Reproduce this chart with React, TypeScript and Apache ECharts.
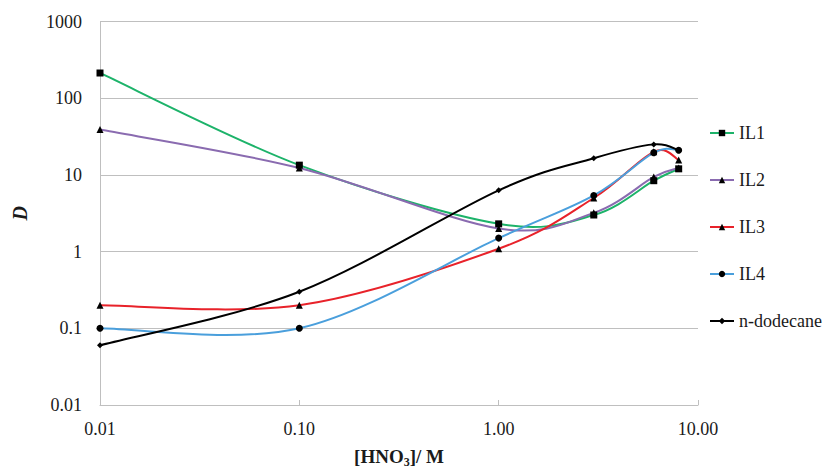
import React, { useEffect, useRef } from "react";
import * as echarts from "echarts";

const hno3 = [0.01, 0.1, 1, 3, 6, 8];
const seriesNames = ["IL1", "IL2", "IL3", "IL4", "n-dodecane"];
const il1 = [213, 13.4, 2.3, 3.0, 8.4, 12];
const il2 = [39, 12.3, 2.0, 3.2, 9.4, 12.3];
const il3 = [0.2, 0.2, 1.09, 5.0, 20, 15.6];
const il4 = [0.1, 0.1, 1.5, 5.4, 19.5, 21];
const dodecane = [0.06, 0.3, 6.3, 16.5, 25, 21];

const xTickLabels = ["0.01", "0.10", "1.00", "10.00"];

const lineColors = ["#1db36a", "#8a6bb0", "#e8222a", "#4a9fdc", "#000000"];
const symbols = ["rect", "triangle", "triangle", "circle", "diamond"];
const symbolSizes = [7, 7, 7, 7, 6];

const FONT = "Liberation Serif";

function smoothPath(pts: number[][]): string {
  // Catmull-Rom style cubic Bezier through the projected points
  const n = pts.length;
  let d = `M${pts[0][0]},${pts[0][1]}`;
  for (let i = 0; i < n - 1; i++) {
    const p0 = pts[i - 1] || pts[i];
    const p1 = pts[i];
    const p2 = pts[i + 1];
    const p3 = pts[i + 2] || pts[i + 1];
    const c1x = p1[0] + (p2[0] - p0[0]) / 6;
    const c1y = p1[1] + (p2[1] - p0[1]) / 6;
    const c2x = p2[0] - (p3[0] - p1[0]) / 6;
    const c2y = p2[1] - (p3[1] - p1[1]) / 6;
    d += ` C${c1x},${c1y} ${c2x},${c2y} ${p2[0]},${p2[1]}`;
  }
  return d;
}

export default function App() {
  const ref = useRef<HTMLDivElement>(null);
  useEffect(() => {
    if (!ref.current) return;
    const chart = echarts.init(ref.current, undefined, { renderer: "svg" });
    const values = [il1, il2, il3, il4, dodecane];

    const curveSeries = values.map((vals, i) => ({
      name: seriesNames[i] + "-curve",
      type: "custom",
      silent: true,
      clip: true,
      z: 2,
      data: [[hno3[0], vals[0]]],
      renderItem: (_params: any, api: any) => {
        const pts = vals.map((v, j) => api.coord([hno3[j], v]));
        return {
          type: "path",
          shape: { pathData: smoothPath(pts) },
          style: { stroke: lineColors[i], fill: "none", lineWidth: 2 },
        };
      },
    }));

    const markerSeries = values.map((vals, i) => ({
      name: seriesNames[i],
      type: "line",
      smooth: false,
      z: 3,
      data: vals.map((v, j) => [hno3[j], v]),
      symbol: symbols[i],
      symbolSize: symbolSizes[i],
      showAllSymbol: true,
      lineStyle: { color: lineColors[i], width: 2, opacity: 0 },
      itemStyle: { color: "#000000" },
    }));

    chart.setOption({
      animation: false,
      backgroundColor: "#ffffff",
      textStyle: { fontFamily: FONT },
      grid: { left: 100, right: 127, top: 21.5, bottom: 66, containLabel: false },
      legend: {
        orient: "vertical",
        left: 704,
        top: 119,
        itemGap: 29,
        itemWidth: 24,
        itemHeight: 8,
        data: seriesNames.map((n, i) => ({
          name: n,
          lineStyle: { color: lineColors[i], width: 2, opacity: 1 },
          itemStyle: { color: "#000000" },
          textStyle: { fontFamily: FONT, fontSize: 18, color: "#1a1a1a" },
        })),
        textStyle: { fontFamily: FONT, fontSize: 18, color: "#1a1a1a", lineHeight: 18 },
      },
      xAxis: {
        type: "log",
        logBase: 10,
        min: 0.01,
        max: 10,
        name: "{a|[HNO}{s|3}{a|]/ M}",
        nameLocation: "middle",
        nameGap: 39,
        nameTextStyle: {
          fontFamily: FONT,
          rich: {
            a: { fontFamily: FONT, fontSize: 19, fontWeight: "bold", color: "#1a1a1a" },
            s: { fontFamily: FONT, fontSize: 12, fontWeight: "bold", color: "#1a1a1a", padding: [12, 0, 0, 0] },
          },
        },
        axisLine: { lineStyle: { color: "#bfbfbf", width: 1 } },
        axisTick: { show: true, inside: true, length: 5, lineStyle: { color: "#bfbfbf" } },
        splitLine: { show: false },
        minorTick: { show: false },
        axisLabel: {
          fontFamily: FONT,
          fontSize: 18,
          color: "#1a1a1a",
          margin: 15,
          formatter: (v: number) => {
            const k = Math.round(Math.log10(v)) + 2;
            return xTickLabels[k] ?? String(v);
          },
        },
      },
      yAxis: {
        type: "log",
        logBase: 10,
        min: 0.01,
        max: 1000,
        name: "D",
        nameLocation: "middle",
        nameRotate: 90,
        nameGap: 70,
        nameTextStyle: { fontFamily: FONT, fontSize: 20, fontWeight: "bold", fontStyle: "italic", color: "#1a1a1a" },
        axisLine: { show: true, lineStyle: { color: "#bfbfbf", width: 1 } },
        axisTick: { show: false },
        splitLine: { show: true, lineStyle: { color: "#bfbfbf", width: 1 } },
        axisLabel: {
          fontFamily: FONT,
          fontSize: 18,
          color: "#1a1a1a",
          margin: 18,
          formatter: (v: number) => String(Number(v.toPrecision(6))),
        },
      },
      series: [...curveSeries, ...markerSeries],
    });
    return () => chart.dispose();
  }, []);
  return <div ref={ref} style={{ width: 825, height: 473, position: "absolute", left: 0, top: 0 }} />;
}
